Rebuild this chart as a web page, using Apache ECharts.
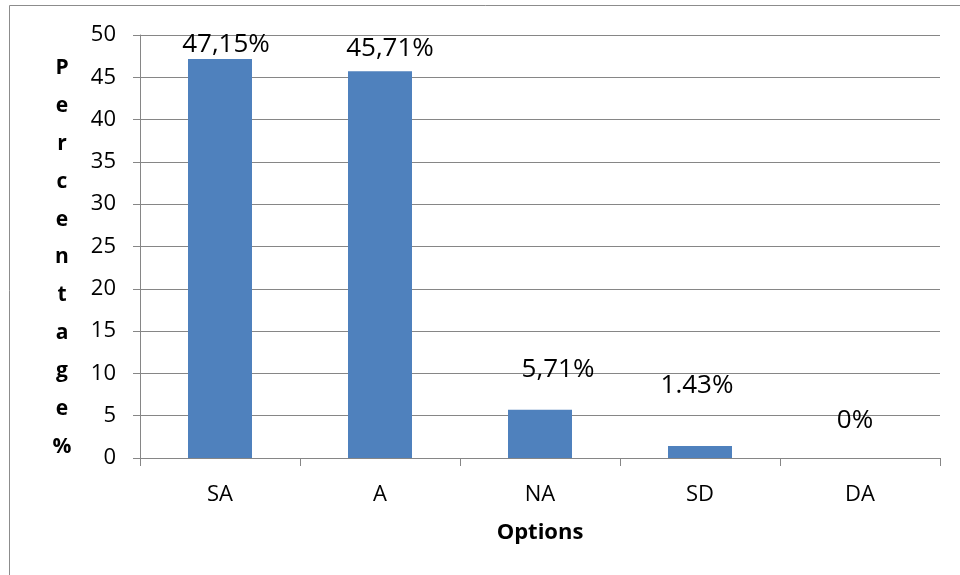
<!DOCTYPE html>
<html>
<head>
<meta charset="utf-8">
<script src="https://cdn.jsdelivr.net/npm/echarts@6/dist/echarts.min.js"></script>
<style>
  html, body { margin: 0; padding: 0; background: #fff; }
  #chart { width: 960px; height: 575px; }
</style>
</head>
<body>
<div id="chart"></div>
<script>
// data
var categories = ['SA', 'A', 'NA', 'SD', 'DA'];
var percentValues = [47.15, 45.71, 5.71, 1.43, 0];
var valueLabels = ['47,15%', '45,71%', '5,71%', '1.43%', '0%'];
var yTicks = [0, 50, 5]; // min, max, interval
var yTitle = 'Percentage%';

// label nudges so they sit where the original ones do
var labelOffsets = [[6, 0], [10, -8], [18, -26], [-3, -46], [-5, -23]];

var gridColor = '#868686';
var fontName = '"Open Sans", "Noto Sans", sans-serif';

var barData = percentValues.map(function (v, i) {
  return {
    value: v,
    label: { offset: labelOffsets[i], formatter: valueLabels[i] }
  };
});

var chart = echarts.init(document.getElementById('chart'));

var option = {
  backgroundColor: '#fff',
  animation: false,
  textStyle: { fontFamily: fontName },
  graphic: [
    {
      type: 'rect',
      shape: { x: 9.5, y: 5.5, width: 1200, height: 1200 },
      style: { fill: 'none', stroke: '#8c8c8c', lineWidth: 1 },
      silent: true
    },
    {
      // vertical axis title, one letter per line
      type: 'text',
      x: 62,
      y: 49,
      silent: true,
      style: {
        text: yTitle.split('').join('\n'),
        fontFamily: fontName,
        fontSize: 21,
        fontWeight: 'bold',
        fill: '#000',
        align: 'center',
        verticalAlign: 'top',
        lineHeight: 37.9
      }
    }
  ],
  grid: { left: 140, right: 20, top: 35, bottom: 117 },
  xAxis: {
    type: 'category',
    data: categories,
    name: 'Options',
    nameLocation: 'middle',
    nameGap: 75,
    nameTextStyle: {
      fontFamily: fontName, fontSize: 22, fontWeight: 'bold', color: '#000',
      verticalAlign: 'middle'
    },
    axisLine: { lineStyle: { color: gridColor, width: 1 } },
    axisTick: { show: true, length: 8, inside: false, lineStyle: { color: gridColor } },
    axisLabel: { color: '#000', fontSize: 22, fontFamily: fontName, margin: 26 }
  },
  yAxis: {
    type: 'value',
    min: yTicks[0],
    max: yTicks[1],
    interval: yTicks[2],
    axisLine: { show: true, lineStyle: { color: gridColor, width: 1 } },
    axisTick: { show: true, length: 7, lineStyle: { color: gridColor } },
    axisLabel: { color: '#000', fontSize: 22, fontFamily: fontName, margin: 24 },
    splitLine: { show: true, lineStyle: { color: gridColor, width: 1 } }
  },
  series: [
    {
      type: 'bar',
      data: barData,
      barWidth: '40%',
      itemStyle: { color: '#4F81BD' },
      label: {
        show: true,
        position: 'top',
        distance: 1.5,
        color: '#000',
        fontSize: 26,
        fontFamily: fontName
      }
    }
  ]
};

chart.setOption(option);
</script>
</body>
</html>
